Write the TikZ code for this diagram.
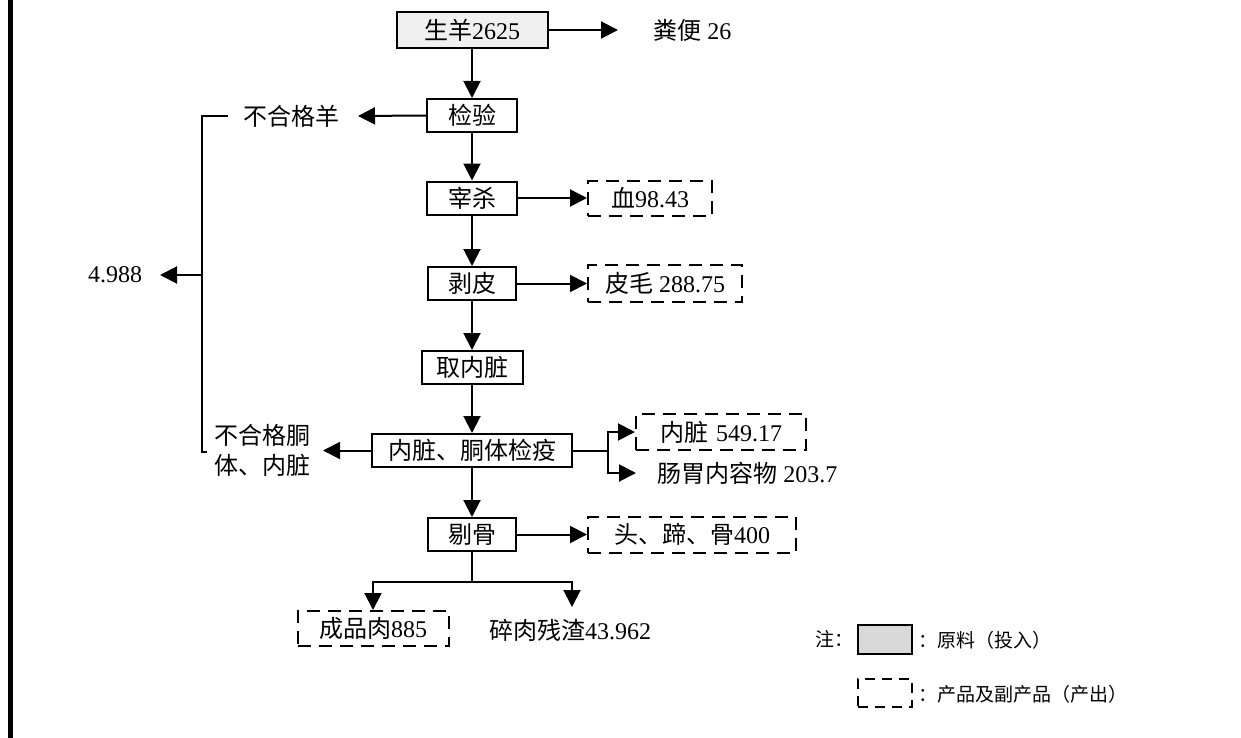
\documentclass[tikz,border=0pt]{standalone}
\usepackage{fontspec}
\setmainfont{Liberation Serif}
\newfontfamily\cjk{Noto Sans CJK SC}
\usetikzlibrary{arrows.meta}
\newcommand\zh[1]{{\cjk #1}}
\begin{document}
\begin{tikzpicture}[x=0.5pt,y=-0.5pt, font=\fontsize{12}{15}\selectfont,
  box/.style={draw, line width=1pt, inner sep=0pt, minimum height=16.5pt},
  dbox/.style={draw, line width=1pt, dash pattern=on 6.5pt off 4pt, inner sep=0pt},
  txt/.style={inner sep=0pt},
  arr/.style={line width=1pt, -{Triangle[length=8.5pt,width=8.5pt]}},
  ln/.style={line width=1pt},
  legfont/.style={font=\fontsize{9.5}{11}\selectfont}]
\useasboundingbox (0,0) rectangle (1241,738);
% left border
\draw[line width=2.5pt] (10,0) -- (10,738);

% main column
\node[box, fill=gray!12, minimum width=75.5pt, minimum height=18pt] (raw) at (472,30) {\zh{生羊}2625};
\node[box, minimum width=45pt] (jy) at (472,115.5) {\zh{检验}};
\node[box, minimum width=45pt] (zs) at (472,198) {\zh{宰杀}};
\node[box, minimum width=44pt] (bp) at (472,283.5) {\zh{剥皮}};
\node[box, minimum width=50.5pt] (qnz) at (472,367.5) {\zh{取内脏}};
\node[box, minimum width=100pt] (jy2) at (472,450.5) {\zh{内脏、胴体检疫}};
\node[box, minimum width=44pt] (tg) at (472,534.5) {\zh{剔骨}};

\draw[arr] (raw) -- (jy);
\draw[arr] (jy) -- (zs);
\draw[arr] (zs) -- (bp);
\draw[arr] (bp) -- (qnz);
\draw[arr] (qnz) -- (jy2);
\draw[arr] (jy2) -- (tg);

% right outputs
\coordinate (fbtip) at (618,30);
\node[txt, anchor=west] (fb) at (653,30) {\zh{粪便} 26};
\draw[arr] (raw.east) -- (fbtip);

\node[dbox, minimum width=62pt, minimum height=17.5pt] (xue) at (650,198) {\zh{血}98.43};
\draw[arr] (zs) -- (xue);

\node[dbox, minimum width=77pt, minimum height=18.5pt] (pm) at (665,283.5) {\zh{皮毛} 288.75};
\draw[arr] (bp) -- (pm);

\node[dbox, minimum width=85pt, minimum height=18pt, text width=61pt, align=left] (nz) at (721,432) {\zh{内脏} 549.17};
\coordinate (rb) at (608,450.5);
\coordinate (cwtip) at (636,473);
\node[txt, anchor=west] (cw) at (657,473) {\zh{肠胃内容物} 203.7};
\draw[ln] (jy2.east) -- (rb);
\draw[arr] (rb) |- (nz.west);
\draw[arr] (rb) |- (cwtip);

\node[dbox, minimum width=104pt, minimum height=18pt] (tdg) at (692,534.5) {\zh{头、蹄、骨}400};
\draw[arr] (tg) -- (tdg);

% bottom split
\coordinate (sp) at (472,582);
\node[dbox, minimum width=75.5pt, minimum height=17.5pt] (cpr) at (373,628.5) {\zh{成品肉}885};
\node[txt] (sr) at (570,630) {\zh{碎肉残渣}43.962};
\coordinate (srtip) at (572,607);
\draw[ln] (tg.south) -- (sp);
\draw[arr] (sp) -| (cpr.north);
\draw[arr] (sp) -| (srtip);

% left rejects
\node[txt] (bhg) at (291,116) {\zh{不合格羊}};
\coordinate (bhgtip) at (358,116);
\draw[arr] (jy.west) -- (bhgtip);

\node[txt, align=left] (bhgt) at (262.5,450) {\zh{不合格胴}\\\zh{体、内脏}};
\coordinate (bhgttip) at (323,450.5);
\draw[arr] (jy2.west) -- (bhgttip);

\coordinate (bt1) at (228,116);
\coordinate (bc1) at (202,116);
\coordinate (bc2) at (202,452);
\coordinate (bt2) at (207,452);
\draw[ln] (bt1) -- (bc1) -- (bc2) -- (bt2);

\coordinate (j4) at (202,275);
\coordinate (t4) at (160,275);
\node[txt] (v4) at (115,275) {4.988};
\draw[arr] (j4) -- (t4);

% legend
\node[txt, anchor=west, legfont] (zhu) at (815,639) {\zh{注：}};
\node[draw, line width=1pt, fill=gray!30, minimum width=27pt, minimum height=14.5pt, inner sep=0pt] (lg1) at (885,639.5) {};
\node[txt, anchor=west, legfont] (lt1) at (918,640) {\zh{：原料（投入）}};
\node[dbox, dash pattern=on 5pt off 3.5pt, minimum width=27pt, minimum height=14pt] (lg2) at (885,693) {};
\node[txt, anchor=west, legfont] (lt2) at (918,694) {\zh{：产品及副产品（产出）}};
\end{tikzpicture}
\end{document}
